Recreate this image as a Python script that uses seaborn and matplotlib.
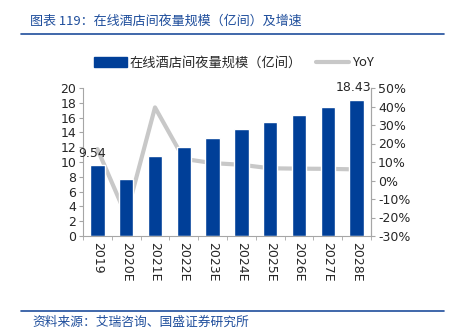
import matplotlib
matplotlib.use("Agg")
import matplotlib.pyplot as plt
import seaborn as sns
import pandas as pd

years = ["2019", "2020E", "2021E", "2022E", "2023E", "2024E", "2025E", "2026E", "2027E", "2028E"]
volume = [9.54, 7.72, 10.76, 12.06, 13.24, 14.42, 15.37, 16.36, 17.40, 18.43]
yoy = [17.0, -19.0, 39.5, 11.7, 9.4, 8.5, 6.6, 6.4, 6.3, 6.0]

sns.set_style("white")
plt.rcParams['font.family'] = ['Noto Sans CJK SC', 'DejaVu Sans']

BLUE = "#003f98"
GREY = "#c8c8c8"
AX = "#a6a6a6"

df = pd.DataFrame({"year": years, "volume": volume, "yoy": yoy})

fig = plt.figure(figsize=(4.54, 3.34), dpi=100)
ax = fig.add_axes([83/454, 1-236/334, (371-83)/454, (236-88)/334])
sns.barplot(data=df, x="year", y="volume", color=BLUE, width=0.5, ax=ax, saturation=1)
ax.set_ylim(0, 20)
ax.set_xlim(-0.5, len(years)-0.5)
ax.set_yticks(range(0, 21, 2))
ax.set_xlabel("")
ax.set_ylabel("")
ax.spines["top"].set_visible(False)
for s in ["left", "bottom", "right"]:
    ax.spines[s].set_color(AX)
    ax.spines[s].set_linewidth(0.8)
ax.tick_params(axis="y", labelsize=9, length=3, color=AX, direction="out", left=True, pad=2)
ax.tick_params(axis="x", labelsize=9, length=0, pad=4, rotation=270)
ax.set_xticks([i + 0.5 for i in range(-1, len(years))], minor=True)
ax.tick_params(axis="x", which="minor", length=3, color=AX, direction="out", bottom=True)
for lab in ax.get_xticklabels() + ax.get_yticklabels():
    lab.set_fontfamily('DejaVu Sans')

ax2 = ax.twinx()
sns.lineplot(x=list(range(len(years))), y=yoy, color=GREY, linewidth=3, ax=ax2, legend=False)
ax2.set_ylim(-30, 50)
ax2.set_yticks(range(-30, 51, 10))
ax2.set_yticklabels([f"{v}%" for v in range(-30, 51, 10)], fontfamily='DejaVu Sans')
ax2.tick_params(axis="y", labelsize=9, length=3, color=AX, direction="out", right=True, pad=2)
for s in ["top", "left", "bottom"]:
    ax2.spines[s].set_visible(False)
ax2.spines["right"].set_color(AX)
ax2.spines["right"].set_linewidth(0.8)

ax.annotate(f"{volume[0]:.2f}", (0, volume[0]), xytext=(-4, 4), textcoords="offset points",
            ha="center", va="bottom", fontsize=9, fontfamily='DejaVu Sans', zorder=5)
ax.annotate(f"{volume[-1]:.2f}", (len(years)-1, volume[-1]), xytext=(-2, 4), textcoords="offset points",
            ha="center", va="bottom", fontsize=9, fontfamily='DejaVu Sans', annotation_clip=False)
ax.set_zorder(ax2.get_zorder() + 1)
ax.patch.set_visible(False)

from matplotlib.patches import Patch
from matplotlib.lines import Line2D
handles = [Patch(color=BLUE), Line2D([0], [0], color=GREY, lw=3)]
fig.legend(handles, ["在线酒店间夜量规模（亿间）", "YoY"], loc="center", bbox_to_anchor=(234/454, 1-63/334),
           ncol=2, frameon=False, fontsize=9.5, handlelength=2.5, handleheight=0.8, columnspacing=1.1,
           handletextpad=0.2, borderpad=0, borderaxespad=0)

fig.text(30/454, 1-21/334, "图表 119：在线酒店间夜量规模（亿间）及增速", color="#1f4e9c", fontsize=9.4,
         style="italic", va="center", ha="left")
fig.add_artist(Line2D([21/454, 444/454], [1-34/334, 1-34/334], color="#1f4e9c", lw=1.2))
fig.add_artist(Line2D([21/454, 444/454], [1-311/334, 1-311/334], color="#1f4e9c", lw=1.2))
fig.text(32/454, 1-322/334, "资料来源：艾瑞咨询、国盛证券研究所", color="#1f4e9c", fontsize=9.2,
         style="italic", va="center", ha="left")

fig.savefig("out.png", dpi=100)
